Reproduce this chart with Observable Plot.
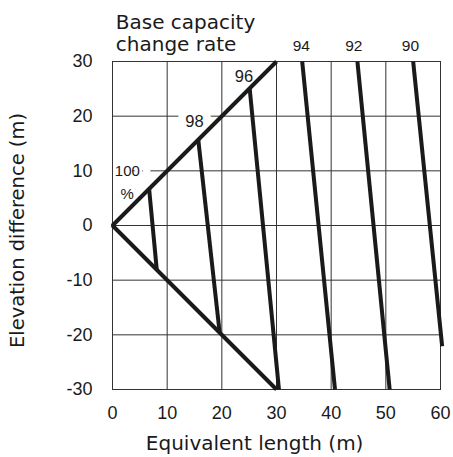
<!DOCTYPE html>
<html><head><meta charset="utf-8">
<script src="https://cdn.jsdelivr.net/npm/d3@7"></script>
<script src="https://cdn.jsdelivr.net/npm/@observablehq/plot@0.6"></script>
<style>body{margin:0;background:#fff} svg{font-family:"Liberation Sans",Arial,sans-serif}</style>
</head><body><div id="chart"></div>
<script>
// Base capacity change rate curves (%)
const rates = ["100", "98", "96", "94", "92", "90"];
const topX = [6.7, 15.7, 25.1, 34.7, 44.8, 55.0];
const topY = [6.7, 15.6, 25.0, 30, 30, 30];
const bottomX = [8.1, 19.6, 30.45, 40.7, 50.7, 60.3];
const bottomY = [-8.1, -19.6, -30, -30, -30, -22.1];
// boundary of the valid region
const boundaryX = [30, 0, 30];
const boundaryY = [30, 0, -30];
// ticks
const xTicks = [0, 10, 20, 30, 40, 50, 60];
const yTicks = [-30, -20, -10, 0, 10, 20, 30];
// annotation anchors (data units)
const innerLabels = ["98", "96"];
const innerLabelX = [15.0, 24.05];
const innerLabelY = [19.0, 27.25];
const topLabels = ["94", "92", "90"];
const topLabelX = [34.55, 44.15, 54.5];
const topLabelY = [32.9, 32.9, 32.9];
const pctLabels = ["100", "%"];
const pctLabelX = [0.42, 1.45];
const pctLabelY = [9.96, 5.8];

const curves = rates.map((r, i) => ({rate: r, x1: topX[i], y1: topY[i], x2: bottomX[i], y2: bottomY[i]}));
const boundary = boundaryX.map((x, i) => ({x, y: boundaryY[i]}));
const inner = innerLabels.map((t, i) => ({t, x: innerLabelX[i], y: innerLabelY[i]}));
const topL = topLabels.map((t, i) => ({t, x: topLabelX[i], y: topLabelY[i]}));
const pct = pctLabels.map((t, i) => ({t, x: pctLabelX[i], y: pctLabelY[i]}));

const ink = "#1a1a1a";
const grid = "#333";
const wide = "'DejaVu Sans', sans-serif";

const chart = Plot.plot({
  width: 453,
  height: 457,
  marginLeft: 112,
  marginRight: 13,
  marginTop: 61,
  marginBottom: 68,
  x: {domain: [0, 60], ticks: xTicks},
  y: {domain: [-30, 30], ticks: yTicks},
  style: {fontFamily: "'Liberation Sans', Arial, sans-serif", color: "#1a1a1a", background: "#fff"},
  marks: [
    Plot.gridX(xTicks, {stroke: grid, strokeOpacity: 1, strokeWidth: 1}),
    Plot.gridY(yTicks, {stroke: grid, strokeOpacity: 1, strokeWidth: 1}),
    Plot.text(inner, {x: "x", y: "y", text: "t", fontSize: 16.5, fill: ink, stroke: "white", strokeWidth: 16, lineAnchor: "middle"}),
    Plot.text(pct, {x: "x", y: "y", text: "t", fontSize: 15, fill: ink, stroke: "white", strokeWidth: 22, textAnchor: "start", lineAnchor: "middle", ariaLabel: "pct"}),
    Plot.frame({stroke: grid, strokeWidth: 1}),
    Plot.line(boundary, {x: "x", y: "y", stroke: ink, strokeWidth: 4, strokeLinejoin: "miter", strokeLinecap: "butt", curve: "linear"}),
    Plot.link(curves, {x1: "x1", y1: "y1", x2: "x2", y2: "y2", stroke: ink, strokeWidth: 4, strokeLinecap: "butt"}),
    Plot.text(topL, {x: "x", y: "y", text: "t", fontSize: 15.5, fill: ink, lineAnchor: "middle"}),
    Plot.axisX(xTicks, {tickSize: 0, tickPadding: 17, fontSize: 18, label: null, tickFormat: (d) => String(d)}),
    Plot.axisY(yTicks, {tickSize: 0, tickPadding: 20, fontSize: 18, label: null, tickFormat: (d) => String(d)}),
    Plot.text(["Equivalent length (m)"], {x: 26, y: -30, dy: 46, lineAnchor: "top", fontSize: 20, fontFamily: wide, fill: ink}),
    Plot.text(["Elevation difference (m)"], {frameAnchor: "left", textAnchor: "middle", rotate: -90, dx: -95, dy: 5, lineAnchor: "middle", fontSize: 19.5, fontFamily: wide, fill: ink}),
    Plot.text(["Base capacity\nchange rate"], {frameAnchor: "top-left", dx: 3.3, dy: -11, textAnchor: "start", lineAnchor: "bottom", lineHeight: 1.07, fontSize: 20, fontFamily: wide, fill: ink})
  ]
});

d3.select(chart).selectAll('g[aria-label="pct"] text')
  .filter(function () { return this.textContent === "100"; })
  .attr("textLength", 20).attr("lengthAdjust", "spacingAndGlyphs");

document.getElementById("chart").appendChild(chart);
</script>
</body></html>
